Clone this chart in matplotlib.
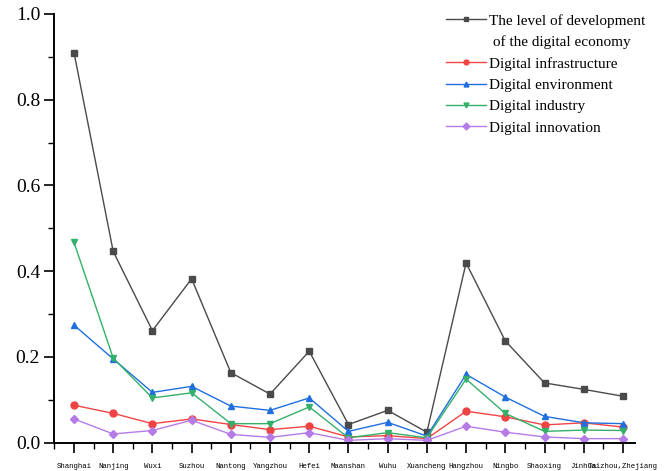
import matplotlib.pyplot as plt
from matplotlib.lines import Line2D
from matplotlib.ticker import MultipleLocator

cities = ['Shanghai', 'Nanjing', 'Wuxi', 'Suzhou', 'Nantong', 'Yangzhou', 'Hefei',
          'Maanshan', 'Wuhu', 'Xuancheng', 'Hangzhou', 'Ningbo', 'Shaoxing',
          'Jinhua', 'Taizhou,Zhejiang']

economy = [0.910, 0.446, 0.261, 0.382, 0.163, 0.113, 0.213, 0.042, 0.075, 0.024,
           0.419, 0.237, 0.139, 0.124, 0.108]
infrastructure = [0.087, 0.068, 0.044, 0.055, 0.042, 0.030, 0.038, 0.013, 0.016, 0.009,
                  0.073, 0.060, 0.041, 0.046, 0.036]
environment = [0.274, 0.195, 0.117, 0.131, 0.085, 0.075, 0.104, 0.026, 0.047, 0.015,
               0.159, 0.106, 0.061, 0.046, 0.044]
industry = [0.467, 0.197, 0.104, 0.116, 0.044, 0.044, 0.083, 0.011, 0.023, 0.011,
            0.148, 0.068, 0.026, 0.029, 0.028]
innovation = [0.055, 0.020, 0.028, 0.052, 0.019, 0.012, 0.023, 0.005, 0.009, 0.005,
              0.038, 0.024, 0.013, 0.009, 0.009]

series = [
    (economy, '#4a4a4a', 's', 'The level of development'),
    (infrastructure, '#f04444', 'o', 'Digital infrastructure'),
    (environment, '#1f6fe0', '^', 'Digital environment'),
    (industry, '#33b06a', 'v', 'Digital industry'),
    (innovation, '#b57ce8', 'D', 'Digital innovation'),
]

fig = plt.figure(figsize=(6.65, 4.71), dpi=100)
ax = fig.add_axes([0.0812, 0.0605, 0.955 - 0.0812, 0.9703 - 0.0605])

x = list(range(len(cities)))
handles = []
for vals, color, marker, label in series:
    ms = 5 if marker != 'D' else 4.2
    ax.plot(x, vals, color=color, marker=marker, markersize=ms, linewidth=1.0)
    handles.append(Line2D([], [], color=color, marker=marker, markersize=3.5,
                          linewidth=1.0, label=label))

# second line of the first legend label, with no handle
handles.insert(1, Line2D([], [], color='none', label=' of the digital economy'))

ax.set_xlim(-0.51, 14.31)
ax.set_ylim(0, 1.0)
ax.set_xticks(x)
ax.set_xticklabels(cities, fontfamily='Liberation Mono', fontsize=5.3)
ax.xaxis.set_minor_locator(MultipleLocator(0.5))
ax.yaxis.set_minor_locator(MultipleLocator(0.1))
ax.set_yticks([0, 0.2, 0.4, 0.6, 0.8, 1.0])
ax.set_yticklabels(['0.0', '0.2', '0.4', '0.6', '0.8', '1.0'],
                   fontfamily='Liberation Serif', fontsize=14)
ax.tick_params(axis='both', which='major', direction='out', length=7, width=1.2)
ax.tick_params(axis='both', which='minor', direction='out', length=4, width=1.0)
ax.tick_params(axis='x', which='major', pad=8)
ax.tick_params(axis='y', which='major', pad=3)
ax.spines['top'].set_visible(False)
ax.spines['right'].set_visible(False)
ax.spines['left'].set_linewidth(1.4)
ax.spines['bottom'].set_linewidth(1.4)

ax.legend(handles=handles, loc='upper left', bbox_to_anchor=(0.675, 1.0),
          frameon=False, prop={'family': 'Liberation Serif', 'size': 11},
          handlelength=2.6, handletextpad=0.2, labelspacing=0.5,
          borderaxespad=0, borderpad=0)

fig.savefig('out.png', dpi=100)
